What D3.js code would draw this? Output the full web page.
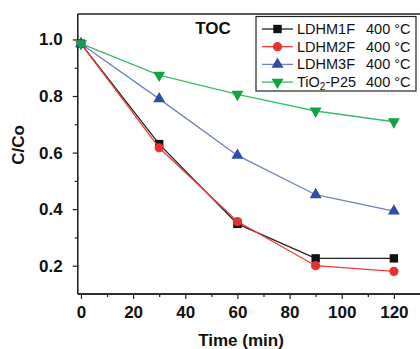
<!DOCTYPE html>
<html>
<head>
<meta charset="utf-8">
<script src="https://cdn.jsdelivr.net/npm/d3@7/dist/d3.min.js"></script>
<style>
  html, body { margin: 0; padding: 0; background: #fff; }
  svg { display: block; font-family: "Liberation Sans", Arial, sans-serif; }
</style>
</head>
<body>
<svg id="chart" width="420" height="349"></svg>
<script>
// Sampling times (min)
const times = [0, 30, 60, 90, 120];

// C/Co for each catalyst calcined at 400 °C
const ldhm1f = [0.985, 0.63, 0.348, 0.226, 0.226];
const ldhm2f = [0.985, 0.617, 0.356, 0.20, 0.18];
const ldhm3f = [0.985, 0.79, 0.59, 0.451, 0.393];
const tio2p25 = [0.985, 0.874, 0.806, 0.747, 0.709];

const xTicks = [0, 20, 40, 60, 80, 100, 120];
const yTicks = [0.2, 0.4, 0.6, 0.8, 1.0];

const series = [
  { name: "LDHM1F", values: ldhm1f, line: "#222222", fill: "#111111", shape: "square" },
  { name: "LDHM2F", values: ldhm2f, line: "#f0393c", fill: "#ea2f33", shape: "circle" },
  { name: "LDHM3F", values: ldhm3f, line: "#6f80c6", fill: "#2f4ea6", shape: "up" },
  { name: "TiO2-P25", values: tio2p25, line: "#3dbb6c", fill: "#11a246", shape: "down" }
];

const svg = d3.select("#chart");
const L = 77.7, R = 421, T = 14, B = 294;

const x = d3.scaleLinear().domain([-1.25, 130.4]).range([L, R]);
const y = d3.scaleLinear().domain([0.1, 1.09]).range([B, T]);

// Frame (top line; right edge runs off the canvas)
svg.append("line").attr("x1", L).attr("x2", R).attr("y1", T).attr("y2", T)
  .attr("stroke", "#222").attr("stroke-width", 1.3);

// Bottom axis with minor ticks
const xAxis = svg.append("g").attr("transform", `translate(0,${B})`);
xAxis.call(d3.axisBottom(x).tickValues(d3.range(10, 130, 20)).tickSize(3).tickFormat(""));
xAxis.call(g => g.append("g").call(d3.axisBottom(x).tickValues(xTicks).tickSize(5).tickPadding(7)
  .tickFormat(d3.format("d"))));
xAxis.selectAll(".domain").attr("d", `M${L},0H${R}`);

// Left axis with minor ticks
const yAxis = svg.append("g").attr("transform", `translate(${L},0)`);
yAxis.call(d3.axisLeft(y).tickValues([0.3, 0.5, 0.7, 0.9]).tickSize(3).tickFormat(""));
yAxis.call(g => g.append("g").call(d3.axisLeft(y).tickValues(yTicks).tickSize(5).tickPadding(10)
  .tickFormat(d3.format(".1f"))));
yAxis.selectAll(".domain").attr("d", `M0,${T}V${B}`);

svg.selectAll(".domain").attr("stroke", "#222").attr("stroke-width", 1.3);
svg.selectAll(".tick line").attr("stroke", "#222").attr("stroke-width", 1.2);
svg.selectAll(".tick text").attr("fill", "#111").attr("font-size", 17).attr("font-weight", "bold")
  .attr("font-family", "'Liberation Sans', Arial, sans-serif");

// Axis titles
svg.append("text").attr("x", 241).attr("y", 346).attr("text-anchor", "middle")
  .attr("font-size", 17).attr("font-weight", "bold").attr("fill", "#111").text("Time (min)");
svg.append("text").attr("transform", "translate(24,145) rotate(-90)").attr("text-anchor", "middle")
  .attr("font-size", 17).attr("font-weight", "bold").attr("fill", "#111").text("C/Co");

// Panel label
svg.append("text").attr("x", 213).attr("y", 34).attr("text-anchor", "middle")
  .attr("font-size", 17).attr("font-weight", "bold").attr("fill", "#111").text("TOC");

function drawMarker(g, shape, fill, cx, cy) {
  if (shape === "square") {
    g.append("rect").attr("x", cx - 4.2).attr("y", cy - 4.2).attr("width", 8.4).attr("height", 8.4).attr("fill", fill);
  } else if (shape === "circle") {
    g.append("circle").attr("cx", cx).attr("cy", cy).attr("r", 4.6).attr("fill", fill);
  } else {
    const sym = d3.symbol().type(d3.symbolTriangle).size(62)();
    g.append("path").attr("d", sym).attr("fill", fill)
      .attr("transform", `translate(${cx},${cy})` + (shape === "down" ? " rotate(180)" : ""));
  }
}

const line = d3.line().x(d => x(d[0])).y(d => y(d[1]));
series.forEach(s => {
  const pts = times.map((t, i) => [t, s.values[i]]);
  const g = svg.append("g");
  g.append("path").attr("d", line(pts)).attr("fill", "none").attr("stroke", s.line).attr("stroke-width", 1.3);
  pts.forEach(p => drawMarker(g, s.shape, s.fill, x(p[0]), y(p[1])));
});

// Legend
const lg = svg.append("g");
lg.append("rect").attr("x", 256).attr("y", 16.5).attr("width", 160).attr("height", 74.5)
  .attr("fill", "#fff").attr("stroke", "#222").attr("stroke-width", 1.2);
series.forEach((s, i) => {
  const cy = 29 + i * 17.7;
  lg.append("line").attr("x1", 262).attr("x2", 293).attr("y1", cy).attr("y2", cy)
    .attr("stroke", s.line).attr("stroke-width", 1.3);
  drawMarker(lg, s.shape, s.fill, 277.5, cy);
  const t = lg.append("text").attr("x", 297).attr("y", cy + 5).attr("font-size", 14.5).attr("fill", "#111");
  if (s.name === "TiO2-P25") {
    t.append("tspan").text("TiO");
    t.append("tspan").attr("font-size", 10).attr("dy", 3).text("2");
    t.append("tspan").attr("dy", -3).text("-P25");
  } else {
    t.text(s.name);
  }
  lg.append("text").attr("x", 366).attr("y", cy + 5).attr("font-size", 14.5).attr("fill", "#111").text("400 °C");
});
</script>
</body>
</html>
